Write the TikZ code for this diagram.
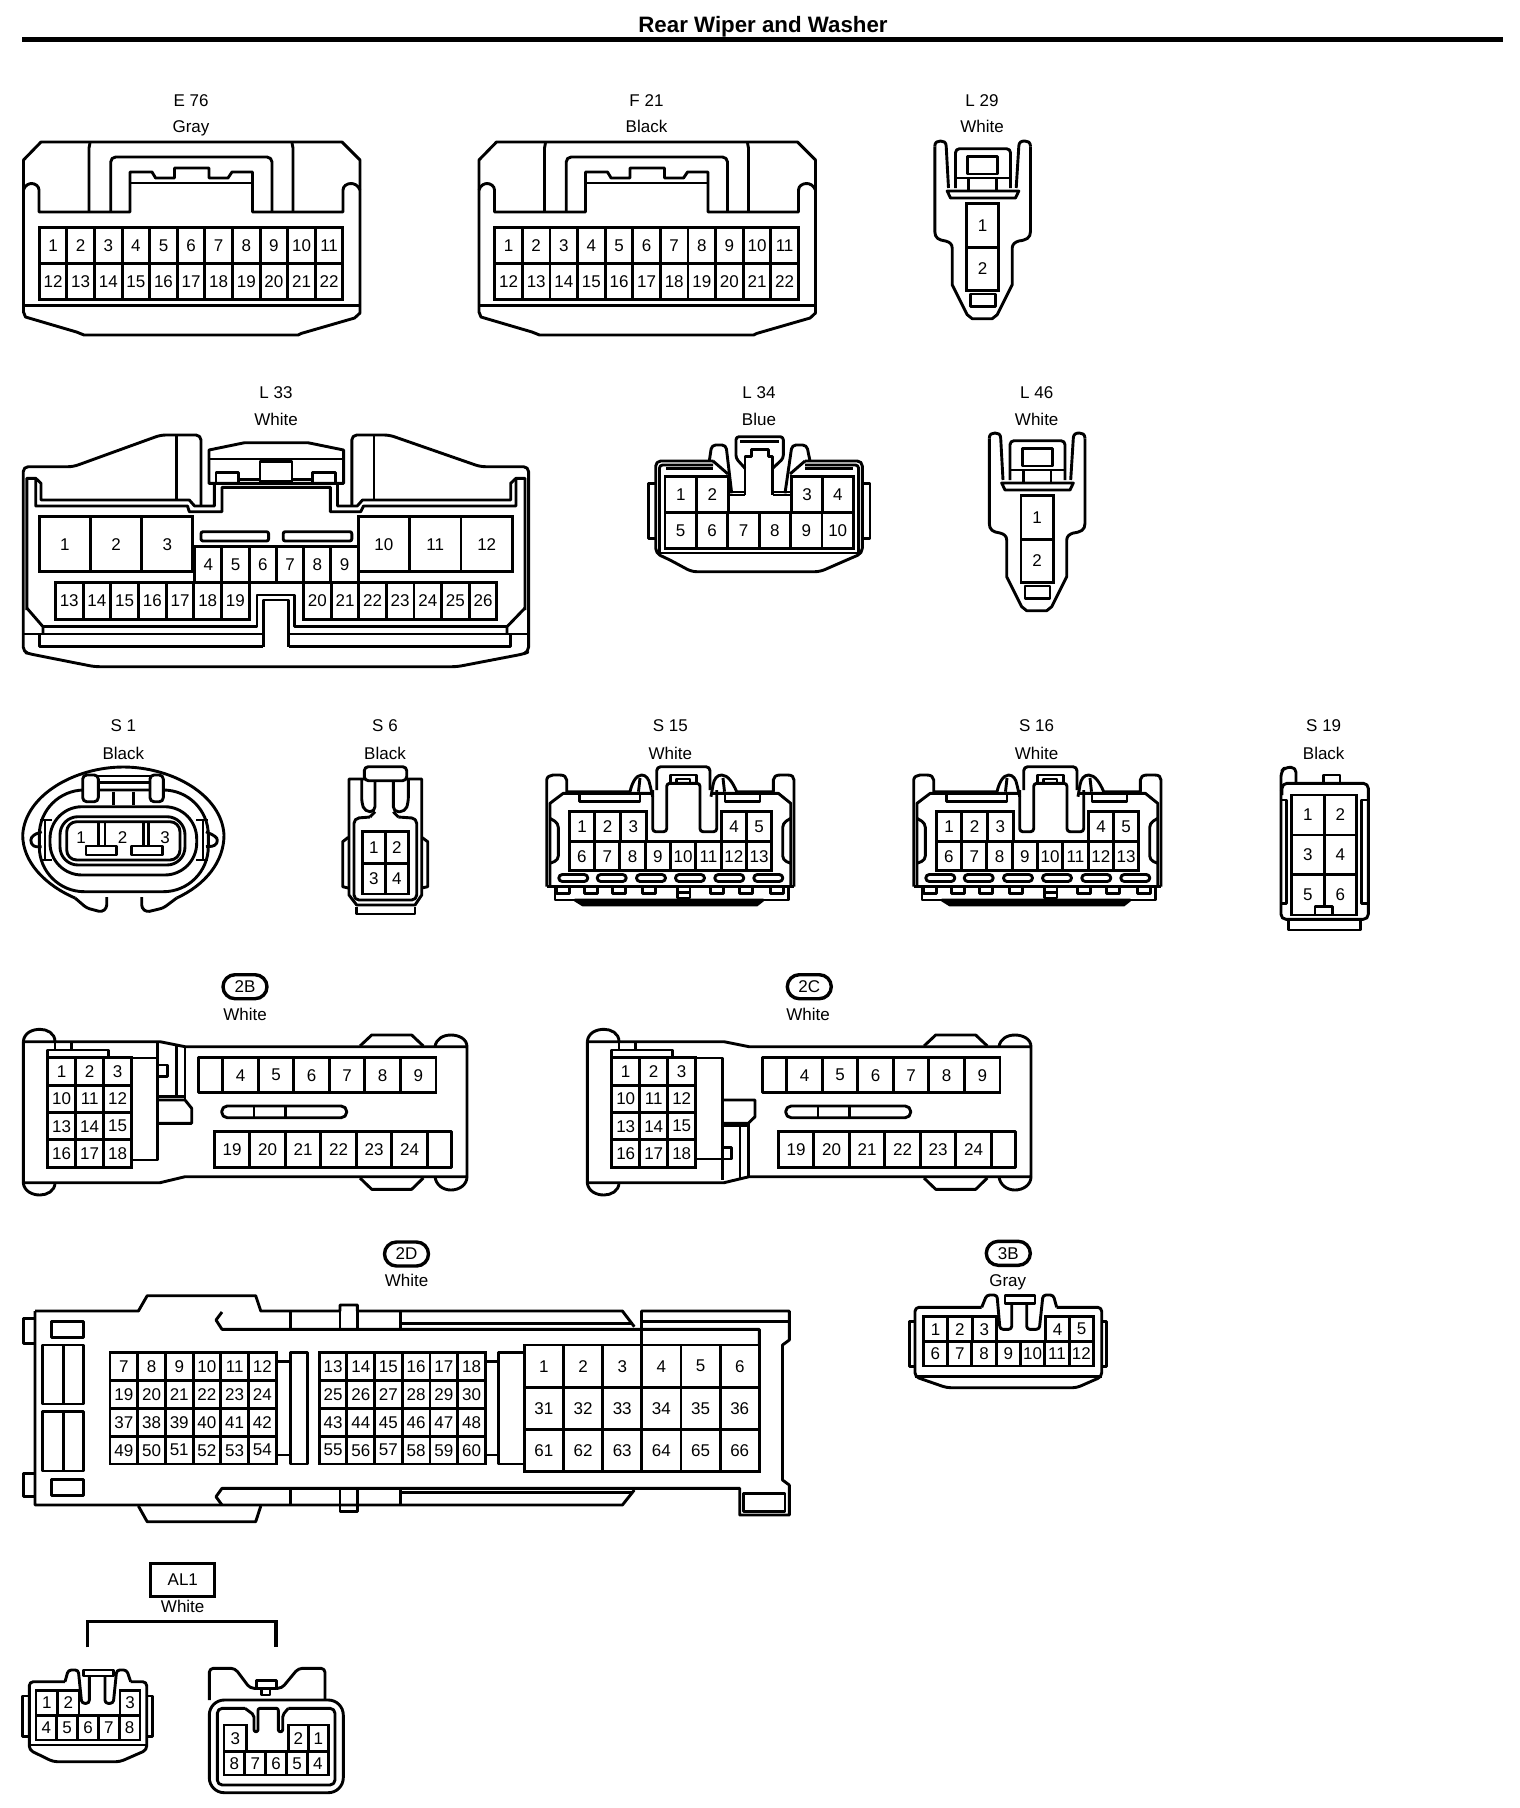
\documentclass[tikz,border=0pt]{standalone}
\usepackage{fontspec}
\setmainfont{Liberation Sans}
\usetikzlibrary{shapes.misc}

\newcommand{\pinfont}{\fontsize{17}{20}\selectfont}
\newcommand{\titlefont}{\fontsize{22.3}{26}\selectfont\bfseries}

\tikzset{
  hull/.style={line width=2.9pt, line join=round},
  pincell/.style={draw, line width=2.9pt, inner sep=0pt, outer sep=0pt, font=\pinfont},
  tagtext/.style={anchor=base, font=\pinfont},
  bubble/.style={draw, rounded rectangle, line width=3.4pt, minimum width=44pt, minimum height=24pt, inner sep=0pt, font=\pinfont},
}

% prefix, left x, top y, pitch, height, labels
\newcommand{\pinrow}[6]{
  \foreach \pinno [count=\pinidx from 0] in {#6}{
    \node[pincell, minimum width=#4pt, minimum height=#5pt] (#1-\pinno) at ({#2+(\pinidx+.5)*#4},{#3+#5/2}) {\pinno};
  }
}

\newcommand{\widehousing}[1]{
  \draw[hull] (23.5,160) -- (41,142) -- (342,142) -- (360,160) -- (360,313) -- (354.6,318) -- (301,333.5) -- (298,335) -- (84,335) -- (76.5,332) -- (25.5,317) -- (23.5,312) -- cycle;
  \draw[hull] (23.5,305.7) -- (360,305.7);
  \draw[hull] (23.5,190) .. controls (25,185) and (29,183.5) .. (31.6,183.5) .. controls (35,183.5) and (39,186) .. (39,190) -- (39,212) -- (130,212) -- (130,172) -- (152,172) -- (155.6,178) -- (174.5,178) -- (174.5,168) -- (209,168) -- (209,178) -- (228,178) -- (232,172) -- (252.5,172) -- (252.5,212) -- (343,212) -- (343,190) .. controls (343,186) and (347,183.5) .. (351,183.5) .. controls (354,183.5) and (358,185) .. (360,190);
  \draw[hull] (130,183) -- (252.5,183);
  \draw[hull] (89,212) -- (89,148) -- (90,143);
  \draw[hull] (293,212) -- (293,148) -- (292,143);
  \draw[hull, rounded corners=5pt] (110.7,212) -- (110.7,157) -- (272,157) -- (272,212);
  \pinrow{#1}{39.3}{227.7}{27.6}{35.7}{1,2,3,4,5,6,7,8,9,10,11}
  \pinrow{#1}{39.3}{263.4}{27.6}{35.7}{12,13,14,15,16,17,18,19,20,21,22}
}

\newcommand{\slimhousing}[1]{
  \draw[hull] (989.3,438.3) .. controls (989.3,434) and (992,433) .. (995,433) .. controls (998,433) and (1000.7,434) .. (1000.7,438.3) -- (1003,480);
  \draw[hull] (1085,438.3) .. controls (1085,434) and (1082,433) .. (1079.3,433) .. controls (1076,433) and (1073.3,434) .. (1073.3,438.3) -- (1070.7,480);
  \draw[hull] (989.3,438.3) -- (989.3,523.3) .. controls (989.3,530) and (993,532) .. (1000,533) .. controls (1004,534) and (1006.7,536) .. (1006.7,540) -- (1006.7,576.7) -- (1021.7,606.7) -- (1026.7,610.7) -- (1046.7,610.7) -- (1051.7,606.7) -- (1066.7,576.7) -- (1066.7,540) .. controls (1066.7,536) and (1070,534) .. (1073.3,533) .. controls (1081,532) and (1085,530) .. (1085,523.3) -- (1085,438.3);
  \draw[hull] (1001.7,483) -- (1073.3,483) -- (1070,490) -- (1005,490) -- cycle;
  \draw[hull, rounded corners=4pt] (1010,480) -- (1010,440.7) -- (1065,440.7) -- (1065,480);
  \draw[hull] (1010,470) -- (1065,470);
  \draw[hull] (1023.3,470) -- (1023.3,482) (1051,470) -- (1051,482);
  \draw[hull] (1022.3,448.3) rectangle (1052.3,466);
  \draw[hull] (1025,586) rectangle (1050,598.3);
  \pinrow{#1}{1021}{495.7}{32.3}{43.6}{1}
  \pinrow{#1}{1021}{539.3}{32.3}{43}{2}
}

\newcommand{\talkhousing}[1]{
  \draw[hull] (546.7,886.7) -- (546.7,780) .. controls (546.7,777) and (550,775) .. (553,775) -- (560,775) .. controls (564,775) and (566.7,777) .. (566.7,780) -- (566.7,791.7) -- (630,791.7) .. controls (632,783) and (636,775) .. (641.7,775) .. controls (646,775) and (649,779) .. (650,785) -- (652.7,796.7);
  \draw[hull] (794,886.7) -- (794,780) .. controls (794,777) and (792,775) .. (788,775) -- (780,775) .. controls (776,775) and (773.3,777) .. (773.3,780) -- (773.3,791.7) -- (736.7,791.7) .. controls (733,783) and (728,775) .. (721.7,775) .. controls (717,775) and (714,779) .. (713,785) -- (711,796.7);
  \draw[hull] (640,778) -- (638.5,791.7) (723,778) -- (724.5,791.7);
  \draw[hull, rounded corners=4pt] (656.7,790) -- (656.7,766.7) -- (710,766.7) -- (710,790);
  \draw[hull, rounded corners=3pt] (652.7,790) -- (652.7,831.7) -- (666.7,831.7) -- (666.7,783.3) -- (700,783.3) -- (700,831.7) -- (716.7,831.7) -- (716.7,790);
  \draw[hull] (670.7,775) rectangle (696.7,783.3);
  \draw[hull] (676.7,779) rectangle (690,783.3);
  \draw[hull] (546.7,886.7) -- (794,886.7);
  \draw[hull] (550,885) -- (550,803.3) -- (563.3,793.3) -- (652,793.3);
  \draw[hull] (790.7,885) -- (790.7,803.3) -- (778.3,793.3) -- (712,793.3);
  \draw[hull] (579.3,793.3) -- (579.3,801.7) -- (640,801.7) -- (640,793.3);
  \draw[hull] (725,793.3) -- (725,801.7) -- (760,801.7) -- (760,793.3);
  \draw[hull, rounded corners=4pt] (550,818.3) -- (558.3,823.3) -- (558.3,860) -- (550,863.3);
  \draw[hull, rounded corners=4pt] (790.7,818.3) -- (782.7,823.3) -- (782.7,860) -- (790.7,863.3);
  \foreach \slotx in {573.3,611.7,651,690,729.3,768.3}{
    \draw[hull, rounded corners=3.5pt] (\slotx-14.5,874.5) rectangle (\slotx+14.5,881.5);
  }
  \draw[hull] (555,886.7) -- (555,900) -- (788.3,900) -- (788.3,886.7);
  \foreach \lugx in {563.3,591,618.7,649,716.7,746,777.3}{
    \draw[hull] (\lugx-6.5,886.7) -- (\lugx-6.5,893.3) -- (\lugx+6.5,893.3) -- (\lugx+6.5,886.7);
  }
  \draw[hull] (677.3,886.7) rectangle (690,898);
  \draw[hull] (677.3,892.5) -- (690,892.5);
  \draw[hull, fill=black] (575,900) -- (583,905) -- (756.7,905) -- (763,900) -- cycle;
  \pinrow{#1}{569.3}{811.7}{25.6}{30}{1,2,3}
  \pinrow{#1}{721.7}{811.7}{25}{30}{4,5}
  \pinrow{#1}{569.3}{841.7}{25.3}{29}{6,7,8,9,10,11,12,13}
}

\newcommand{\striphull}{
  \draw[hull] (23.3,1041.7) -- (160,1041.7) -- (185,1046.7) -- (467,1046.7) -- (467,1176.7) -- (185,1176.7) -- (160,1182.7) -- (23.3,1182.7) -- cycle;
  \draw[hull] (23.3,1041.7) .. controls (24,1033) and (32,1029.3) .. (40,1029.3) .. controls (47,1029.3) and (55,1033) .. (55,1041.7);
  \draw[hull] (23.3,1182.7) .. controls (24,1191) and (32,1195) .. (40,1195) .. controls (47,1195) and (55,1191) .. (55,1182.7);
  \draw[hull] (435,1046.7) .. controls (436,1039) and (443,1035) .. (451,1035) .. controls (459,1035) and (467,1039) .. (467,1046.7);
  \draw[hull] (435,1176.7) .. controls (436,1185) and (443,1190) .. (451,1190) .. controls (459,1190) and (467,1185) .. (467,1176.7);
  \draw[hull] (360,1046) -- (371.7,1035) -- (411.7,1035) -- (423.3,1046);
  \draw[hull] (360,1178) -- (371.7,1189.3) -- (411.7,1189.3) -- (423.3,1178);
  \draw[hull] (47.7,1057.7) -- (47.7,1050) -- (108.3,1050) -- (108.3,1057.7);
  \draw[hull] (55,1041.7) -- (55,1050) (71.7,1041.7) -- (71.7,1050);
}

\newcommand{\leftblock}[1]{
  \pinrow{#1}{47.7}{1057.7}{28}{27.4}{1,2,3}
  \pinrow{#1}{47.7}{1085.1}{28}{27.4}{10,11,12}
  \pinrow{#1}{47.7}{1112.5}{28}{27.4}{13,14,15}
  \pinrow{#1}{47.7}{1139.9}{28}{27.4}{16,17,18}
  \draw[hull] (198.3,1057.7) rectangle (222.7,1092.7);
  \pinrow{#1}{222.7}{1057.7}{35.55}{35}{4,5,6,7,8,9}
  \draw[hull, rounded corners=5.5pt] (221.7,1106) rectangle (346.7,1117.7);
  \draw[hull] (254,1106) -- (254,1117.7) (285.7,1106) -- (285.7,1117.7);
  \pinrow{#1}{214.3}{1131.7}{35.5}{35.6}{19,20,21,22,23,24}
  \draw[hull] (427.3,1131.7) rectangle (451.7,1167.3);
}

\begin{document}
\begin{tikzpicture}[x=1pt,y=-1pt]
\useasboundingbox (0,0) rectangle (1520,1808);

\node[font=\titlefont, anchor=base] (title) at (763,32.5) {Rear Wiper and Washer};
\draw[line width=5pt] (22,39.5) -- (1503,39.5);

% first row
\node[tagtext] (e76) at (191,106) {E 76};
\node[tagtext] (e76col) at (191,132.7) {Gray};
\widehousing{e76}
\node[tagtext] (f21) at (646.5,106) {F 21};
\node[tagtext] (f21col) at (646.5,132.7) {Black};
\begin{scope}[shift={(455.5,0)}]
\widehousing{f21}
\end{scope}
\node[tagtext] (l29) at (982,106) {L 29};
\node[tagtext] (l29col) at (982,132.7) {White};
\begin{scope}[shift={(-54.5,-292)}]
\slimhousing{l29}
\end{scope}

% second row
\node[tagtext] (l33) at (276,398.3) {L 33};
\node[tagtext] (l33col) at (276,425) {White};
\draw[hull, rounded corners=5pt] (201,505) -- (201,435) -- (160.7,435) -- (73.2,466.7) -- (23.2,466.7) -- (23.2,652) -- (30.4,654) -- (94.6,666.7) -- (457,666.7) -- (523.2,654) -- (528.6,652) -- (528.6,466.7) -- (480.4,466.7) -- (389.3,435) -- (351.8,435) -- (351.8,505);
\draw[hull] (176.8,436) -- (176.8,500) (374,436) -- (374,500);
\draw[hull] (26.8,610) -- (26.8,478.3) -- (35.7,478.3) -- (41,483.3) -- (41,500) -- (189.3,500) -- (194.6,506) -- (214.3,506) -- (214.3,483.3);
\draw[hull] (525,610) -- (525,478.3) -- (516,478.3) -- (510.7,483.3) -- (510.7,500) -- (362.5,500) -- (357.2,506) -- (337.5,506) -- (337.5,483.3);
\draw[hull] (35.7,480) -- (35.7,506) -- (187.5,506) -- (189.3,511.7) -- (222,511.7) -- (222,487.3) -- (330.4,487.3) -- (330.4,511.7) -- (360.7,511.7) -- (363.6,506) -- (516,506) -- (516,480);
\draw[hull] (209,483.3) -- (209,450) -- (244.6,442.7) -- (307.9,442.7) -- (343.6,450) -- (343.6,483.3) -- cycle;
\draw[hull] (209,459) -- (343.6,459);
\draw[hull] (216,483.3) -- (216,472.7) -- (238.6,472.7) -- (238.6,483.3);
\draw[hull] (312.5,483.3) -- (312.5,472.7) -- (335.7,472.7) -- (335.7,483.3);
\draw[hull] (260,461.7) rectangle (292,481.7);
\draw[hull] (238.6,479.3) -- (260,479.3) (292,479.3) -- (312.5,479.3);
\pinrow{l33}{39.3}{516.7}{51.2}{55}{1,2,3}
\pinrow{l33}{358.2}{516.7}{51.4}{55}{10,11,12}
\draw[hull] (192.9,546.7) -- (358.2,546.7);
\pinrow{l33}{194.6}{546.7}{27.26}{36}{4,5,6,7,8,9}
\pinrow{l33}{55.4}{582.7}{27.7}{36.6}{13,14,15,16,17,18,19}
\pinrow{l33}{303.6}{582.7}{27.6}{36.6}{20,21,22,23,24,25,26}
\draw[hull, rounded corners=2pt] (201,531.7) rectangle (268.6,541);
\draw[hull, rounded corners=2pt] (283.2,531.7) rectangle (351.8,541);
\draw[hull] (43,626.7) -- (257,626.7) -- (257,595) -- (294.6,595) -- (294.6,626.7) -- (507,626.7);
\draw[hull] (288.6,646.7) -- (288.6,600) -- (263.2,600) -- (263.2,646.7);
\draw[hull] (23.2,634) -- (263.2,634) (288.6,634) -- (528.6,634);
\draw[hull] (39.3,634) -- (39.3,646.7) -- (263.2,646.7) (288.6,646.7) -- (510.7,646.7) -- (510.7,634);
\draw[hull] (26.8,608) -- (43,626.7) -- (43,634) (525,608) -- (507,626.7) -- (507,634);

\node[tagtext] (l34) at (759,398.3) {L 34};
\node[tagtext] (l34col) at (759,425) {Blue};
\draw[hull, rounded corners=5pt] (713.3,461) -- (655.7,461) -- (655.7,553.3) -- (670,560) -- (691.7,571.7) -- (820,571.7) -- (846.7,560) -- (862.3,553.3) -- (862.3,461) -- (805,461);
\draw[hull, rounded corners=3pt] (659.5,553) -- (659.5,465) -- (713,465) (858.5,553) -- (858.5,465) -- (805,465);
\draw[hull] (659.5,553) -- (858.5,553);
\draw[hull] (666,468.3) -- (713,468.3) (805,468.3) -- (853,468.3);
\draw[hull] (655.7,483.3) -- (648.3,483.3) -- (648.3,538.3) -- (655.7,538.3);
\draw[hull] (862.3,483.3) -- (870,483.3) -- (870,538.3) -- (862.3,538.3);
\draw[hull, rounded corners=3pt] (745,468.3) -- (736,458.3) -- (736,436.7) -- (783.3,436.7) -- (783.3,458.3) -- (772.7,468.3);
\draw[hull] (740,441.7) -- (779,441.7);
\draw[hull] (745,495) -- (745,456.7) -- (751.7,456.7) -- (751.7,449.3) -- (768.3,449.3) -- (768.3,456.7) -- (772.7,456.7) -- (772.7,495);
\draw[hull] (730,495) -- (745,495) (772.7,495) -- (791,495);
\draw[hull] (730,492) -- (745,492) (772.7,492) -- (791,492);
\draw[hull, rounded corners=4pt] (709.3,461) -- (711.7,445) -- (726,445) -- (731.7,493.3);
\draw[hull, rounded corners=4pt] (810,461) -- (806.7,445) -- (792,445) -- (785,493.3);
\draw[hull] (713,461) -- (728,474) (805,461) -- (790,474);
\pinrow{l34}{665}{476.7}{31.6}{36}{1,2}
\pinrow{l34}{791.7}{476.7}{30.8}{36}{3,4}
\pinrow{l34}{665}{512.7}{31.4}{35.6}{5,6,7,8,9,10}

\node[tagtext] (l46) at (1036.7,398.3) {L 46};
\node[tagtext] (l46col) at (1036.7,425) {White};
\slimhousing{l46}

% third row
\node[tagtext] (s1) at (123.3,731.7) {S 1};
\node[tagtext] (s1col) at (123.3,759.3) {Black};
\draw[hull] (75,898) .. controls (45,885) and (22.7,862) .. (22.7,835) .. controls (25,795) and (75,767) .. (123.3,767) .. controls (172,767) and (222,795) .. (224,835) .. controls (224,862) and (205,885) .. (176.7,898);
\draw[hull, rounded corners=3pt] (75,898) -- (86.7,908) -- (101.7,912) -- (106.7,908) -- (106.7,897);
\draw[hull, rounded corners=3pt] (141.7,897) -- (141.7,908) -- (146.7,912) -- (163.3,908) -- (176.7,898);
\draw[hull, rounded corners=45pt] (39.3,790) rectangle (208.3,891.7);
\draw[hull, rounded corners=32pt] (50,806.7) rectangle (196.7,875);
\draw[hull, rounded corners=18pt] (60,816.7) rectangle (185,865);
\draw[hull, rounded corners=10pt] (66.7,821.7) rectangle (180,860);
\draw[hull, fill=white, rounded corners=4pt] (82.7,801.7) -- (82.7,775) -- (98.3,775) -- (98.3,801.7) -- cycle;
\draw[hull, fill=white, rounded corners=4pt] (150,801.7) -- (150,775) -- (163.3,775) -- (163.3,801.7) -- cycle;
\draw[hull] (98.3,776) -- (150,776) (98.3,782.7) -- (150,782.7);
\draw[hull] (113.3,791.7) -- (113.3,805) (133.3,791.7) -- (133.3,805);
\draw[hull] (40,820) -- (52,820) (40,860) -- (52,860) (45,820) -- (45,860);
\draw[hull] (196,820) -- (208,820) (196,860) -- (208,860) (203,820) -- (203,860);
\draw[hull, rounded corners=3pt] (41.7,831.7) -- (33.3,835) -- (30,840) -- (33.3,846.7) -- (41.7,846.7);
\draw[hull, rounded corners=3pt] (206,831.7) -- (215,836) -- (218.3,840) -- (215,846) -- (206,846.7);
\draw[hull] (98.3,821.7) -- (98.3,846) (105,821.7) -- (105,846) (143.3,821.7) -- (143.3,846) (148.3,821.7) -- (148.3,846);
\draw[hull] (86,846) rectangle (116.7,855);
\draw[hull] (131.7,846) rectangle (162.3,855);
\node[font=\pinfont] (s1-1) at (81,837.3) {1};
\node[font=\pinfont] (s1-2) at (122.7,837.3) {2};
\node[font=\pinfont] (s1-3) at (165,837.3) {3};

\node[tagtext] (s6) at (385,731.7) {S 6};
\node[tagtext] (s6col) at (385,759.3) {Black};
\draw[hull, rounded corners=4pt] (364.3,766.7) rectangle (406.7,780.7);
\draw[hull] (364.3,779) -- (349,779) -- (349,895) -- (356.7,905) -- (415,905) -- (421.7,895) -- (421.7,779) -- (406.7,779);
\draw[hull, rounded corners=5pt] (361.7,780) -- (361.7,803) -- (365,811.7) -- (375,811.7) -- (375,780.7);
\draw[hull, rounded corners=5pt] (408.3,780) -- (408.3,803) -- (405,811.7) -- (393.3,811.7) -- (393.3,780.7);
\draw[hull, rounded corners=5pt] (370,817) -- (354,818.3) -- (354,900) -- (416.7,900) -- (416.7,818.3) -- (398.3,817);
\draw[hull] (375,811.7) -- (370,817) (393.3,811.7) -- (398.3,817);
\draw[hull] (356.7,906.7) -- (356.7,914) -- (415,914) -- (415,906.7);
\draw[hull] (348.3,837.3) -- (342.7,841.7) -- (342.7,886.7) -- (348.3,888);
\draw[hull] (421.7,837.3) -- (427.7,841.7) -- (427.7,886.7) -- (421.7,888);
\pinrow{s6}{362.3}{831.7}{23}{31.6}{1,2}
\pinrow{s6}{362.3}{863.3}{23}{30.7}{3,4}

\node[tagtext] (s15) at (670.4,731.7) {S 15};
\node[tagtext] (s15col) at (670.4,759.3) {White};
\talkhousing{s15}
\node[tagtext] (s16) at (1036.6,731.7) {S 16};
\node[tagtext] (s16col) at (1036.6,759.3) {White};
\begin{scope}[shift={(367,0)}]
\talkhousing{s16}
\end{scope}

\node[tagtext] (s19) at (1323.7,731.7) {S 19};
\node[tagtext] (s19col) at (1323.7,759.3) {Black};
\draw[hull, rounded corners=5pt] (1281,790) -- (1281,771.7) -- (1285,767.3) -- (1296,767.3) -- (1296,783.3);
\draw[hull, rounded corners=5pt] (1282,795) -- (1282,783.3) -- (1368.3,783.3) -- (1368.3,919.3) -- (1281,919.3) -- (1281,790);
\draw[hull] (1323.3,783.3) -- (1323.3,775) -- (1340,775) -- (1340,783.3);
\draw[hull] (1288.3,919.3) -- (1288.3,930) -- (1360.7,930) -- (1360.7,919.3);
\draw[hull] (1281,800) -- (1286.7,800) -- (1286.7,903.3) -- (1281,903.3);
\draw[hull] (1368.3,800) -- (1361.5,800) -- (1361.5,903.3) -- (1368.3,903.3);
\pinrow{s19}{1291.7}{795}{32.5}{40}{1,2}
\pinrow{s19}{1291.7}{835}{32.5}{39.3}{3,4}
\pinrow{s19}{1291.7}{874.3}{32.5}{40.7}{5,6}
\draw[hull, fill=white] (1315,906.7) rectangle (1332.7,915);

% fourth row
\node[bubble] (b2b) at (245,986.7) {2B};
\node[tagtext] (b2bcol) at (245,1020.7) {White};
\striphull
\draw[hull] (131.7,1058) -- (157.3,1058) (157.3,1041.7) -- (157.3,1160) -- (131.7,1160);
\draw[hull] (176.7,1045) -- (176.7,1097) (185,1046.7) -- (185,1100);
\draw[hull] (157.3,1096.7) -- (185,1096.7);
\draw[hull] (157.3,1100) -- (185,1100) -- (191.7,1108.3) -- (191.7,1123.3) -- (157.3,1123.3);
\draw[hull] (157.3,1065) -- (167.7,1065) -- (167.7,1076.7) -- (157.3,1076.7);
\leftblock{b2b}

\node[bubble] (b2c) at (809.3,986.7) {2C};
\node[tagtext] (b2ccol) at (808,1020.7) {White};
\begin{scope}[shift={(564,0)}]
\striphull
\draw[hull] (131.7,1058) -- (158.7,1058) -- (158.7,1180);
\draw[hull] (131.7,1159) -- (167.7,1159) -- (167.7,1147.3) -- (158.7,1147.3);
\draw[hull] (158.7,1100) -- (191,1100) -- (191,1116.7) -- (184.3,1123.3) -- (158.7,1123.3);
\draw[hull] (158.7,1125.7) -- (184.3,1125.7);
\draw[hull] (176,1126) -- (176,1178) (184.3,1123.3) -- (184.3,1177);
\leftblock{b2c}
\end{scope}

% fifth row
\node[bubble] (b2d) at (406.5,1254) {2D};
\node[tagtext] (b2dcol) at (406.5,1286.7) {White};
\draw[hull] (35,1311) -- (138.4,1311) -- (147.2,1295.7) -- (255.7,1295.7) -- (260.8,1311) -- (340,1311) -- (340,1305) -- (357.4,1305) -- (357.4,1311) -- (622.4,1311) -- (634.3,1326.7);
\draw[hull] (641.5,1345) -- (641.5,1311) -- (789.3,1311) -- (789.3,1340) -- (782.5,1345) -- (782.5,1480) -- (789.3,1485) -- (789.3,1515) -- (739.7,1515) -- (739.7,1488.3) -- (222,1488.3) -- (216,1496.7) -- (222,1505);
\draw[hull] (35,1311) -- (35,1505) -- (622.4,1505) -- (634.3,1490);
\draw[hull] (23.2,1318.3) rectangle (35,1343.3);
\draw[hull] (23.2,1473.3) rectangle (35,1496.7);
\draw[hull] (51.7,1321.7) rectangle (83.7,1337.3);
\draw[hull] (51.7,1479.3) rectangle (83.7,1495.7);
\draw[hull] (42.9,1345) rectangle (83.7,1404);
\draw[hull] (42.9,1411.7) rectangle (83.7,1471);
\draw[hull] (63.5,1345) -- (63.5,1404) (63.5,1411.7) -- (63.5,1471);
\draw[hull] (222,1312) -- (216,1320) -- (222,1329.3) -- (759.3,1329.3) -- (759.3,1345);
\draw[hull] (290.8,1311) -- (290.8,1329.3) (340,1311) -- (340,1329.3) (357.4,1311) -- (357.4,1329.3) (400.3,1311) -- (400.3,1329.3);
\draw[hull] (400.3,1323.3) -- (632.7,1323.3) (641.5,1321.7) -- (787.7,1321.7);
\draw[hull] (290.8,1488.3) -- (290.8,1505) (400.3,1488.3) -- (400.3,1505);
\draw[hull] (340,1488.3) -- (340,1511.7) -- (357.4,1511.7) -- (357.4,1488.3);
\draw[hull] (400.3,1492.7) -- (632.7,1492.7);
\draw[hull] (138.4,1506) -- (147.2,1521.7) -- (255.7,1521.7) -- (260.8,1506);
\draw[hull] (743.8,1493.3) rectangle (785,1511.7);
\pinrow{b2d}{110}{1352.7}{27.7}{28}{7,8,9,10,11,12}
\pinrow{b2d}{110}{1380.7}{27.7}{27.7}{19,20,21,22,23,24}
\pinrow{b2d}{110}{1408.4}{27.7}{28}{37,38,39,40,41,42}
\pinrow{b2d}{110}{1436.4}{27.7}{27.6}{49,50,51,52,53,54}
\pinrow{b2d}{319.2}{1352.7}{27.7}{28}{13,14,15,16,17,18}
\pinrow{b2d}{319.2}{1380.7}{27.7}{27.7}{25,26,27,28,29,30}
\pinrow{b2d}{319.2}{1408.4}{27.7}{28}{43,44,45,46,47,48}
\pinrow{b2d}{319.2}{1436.4}{27.7}{27.6}{55,56,57,58,59,60}
\pinrow{b2d}{524.3}{1345}{39.17}{42.3}{1,2,3,4,5,6}
\pinrow{b2d}{524.3}{1387.3}{39.17}{42}{31,32,33,34,35,36}
\pinrow{b2d}{524.3}{1429.3}{39.17}{42.4}{61,62,63,64,65,66}
\draw[hull] (290.8,1352.7) rectangle (307.9,1464);
\draw[hull] (276.3,1361.7) -- (290.8,1361.7) (276.3,1455) -- (290.8,1455);
\draw[hull] (524.3,1352.7) -- (498.5,1352.7) -- (498.5,1464) -- (524.3,1464);
\draw[hull] (485.5,1361.7) -- (498.5,1361.7) (485.5,1455) -- (498.5,1455);

\node[bubble] (b3b) at (1008.3,1253.3) {3B};
\node[tagtext] (b3bcol) at (1007.7,1286.7) {Gray};
\draw[hull, rounded corners=4pt] (981.7,1307.3) -- (915,1307.3) -- (915,1376.7) -- (946.7,1387.7) -- (1076.7,1387.7) -- (1101.7,1376.7) -- (1101.7,1307.3) -- (1056.7,1307.3);
\draw[hull] (915,1376.7) -- (1101.7,1376.7);
\draw[hull, rounded corners=3pt] (981.7,1307.3) -- (986.7,1295) -- (997,1295) -- (1000,1329.3) -- (1011.7,1329.3) -- (1011.7,1303.3);
\draw[hull, rounded corners=3pt] (1056.7,1307.3) -- (1053.3,1295) -- (1043,1295) -- (1039.3,1329.3) -- (1026.7,1329.3) -- (1026.7,1303.3);
\draw[hull] (1005,1295.7) rectangle (1035,1303.3);
\draw[hull] (915,1321.7) -- (909.3,1321.7) -- (909.3,1366.7) -- (915,1366.7);
\draw[hull] (1101.7,1321.7) -- (1106.7,1321.7) -- (1106.7,1366.7) -- (1101.7,1366.7);
\pinrow{b3b}{923.3}{1316.7}{24.4}{25}{1,2,3}
\pinrow{b3b}{1045.7}{1316.7}{24}{25}{4,5}
\pinrow{b3b}{923.3}{1341.7}{24.3}{24.3}{6,7,8,9,10,11,12}

% last row
\node[draw, line width=2.9pt, minimum width=64pt, minimum height=32.7pt, inner sep=0pt, font=\pinfont] (al1) at (182.8,1579.7) {AL1};
\node[tagtext] (al1col) at (182.7,1612.7) {White};
\coordinate (al1a) at (87.7,1647.3);
\coordinate (al1b) at (276,1647.3);
\draw[line width=3.2pt] (al1a) -- ++(0,-25.6) -| (al1b);

\draw[hull, rounded corners=4pt] (65,1681.7) -- (29.3,1681.7) -- (29.3,1750) -- (53.3,1761.7) -- (120,1761.7) -- (146.7,1750) -- (146.7,1681.7) -- (130.7,1681.7);
\draw[hull] (29.3,1745) -- (146.7,1745);
\draw[hull, rounded corners=3pt] (65,1681.7) -- (68.3,1670) -- (78.3,1670) -- (81.7,1703.3) -- (89.3,1703.3) -- (89.3,1676);
\draw[hull, rounded corners=3pt] (130.7,1681.7) -- (126.7,1670) -- (116.7,1670) -- (113.3,1703.3) -- (105,1703.3) -- (105,1676);
\draw[hull] (83.3,1670) rectangle (113.3,1676);
\draw[hull] (29.3,1696) -- (22.7,1696) -- (22.7,1736.7) -- (29.3,1736.7);
\draw[hull] (146.7,1696) -- (152.7,1696) -- (152.7,1736.7) -- (146.7,1736.7);
\pinrow{al1l}{36}{1690.7}{21.5}{24.6}{1,2}
\pinrow{al1l}{120}{1690.7}{20}{24.6}{3}
\pinrow{al1l}{36}{1715.3}{20.8}{24.7}{4,5,6,7,8}

\draw[hull, rounded corners=15pt] (209.3,1700) rectangle (343.3,1792.7);
\draw[hull, rounded corners=4pt] (209.3,1700) -- (209.3,1668.3) -- (235,1668.3) -- (250,1688.3) -- (256.7,1688.3);
\draw[hull, rounded corners=4pt] (325,1700) -- (325,1668.3) -- (298.3,1668.3) -- (281.7,1688.3) -- (276.7,1688.3);
\draw[hull] (256.7,1680.7) rectangle (276.7,1688.3);
\draw[hull] (261.7,1688.3) rectangle (270,1695);
\draw[hull, rounded corners=5pt] (245,1708.3) -- (217.3,1708.3) -- (217.3,1785) -- (335,1785) -- (335,1708.3) -- (288.3,1708.3);
\draw[hull, rounded corners=2pt] (245,1708.3) -- (254,1715) -- (254,1731.7) -- (258,1731.7) -- (258,1708.3) -- (278.3,1708.3) -- (278.3,1731.7) -- (282.7,1731.7) -- (282.7,1715) -- (288.3,1708.3);
\pinrow{al1r}{224}{1725}{22.7}{26.7}{3}
\pinrow{al1r}{288.3}{1725}{20}{26.7}{2,1}
\pinrow{al1r}{224}{1751.7}{20.85}{23.3}{8,7,6,5,4}
\end{tikzpicture}
\end{document}
